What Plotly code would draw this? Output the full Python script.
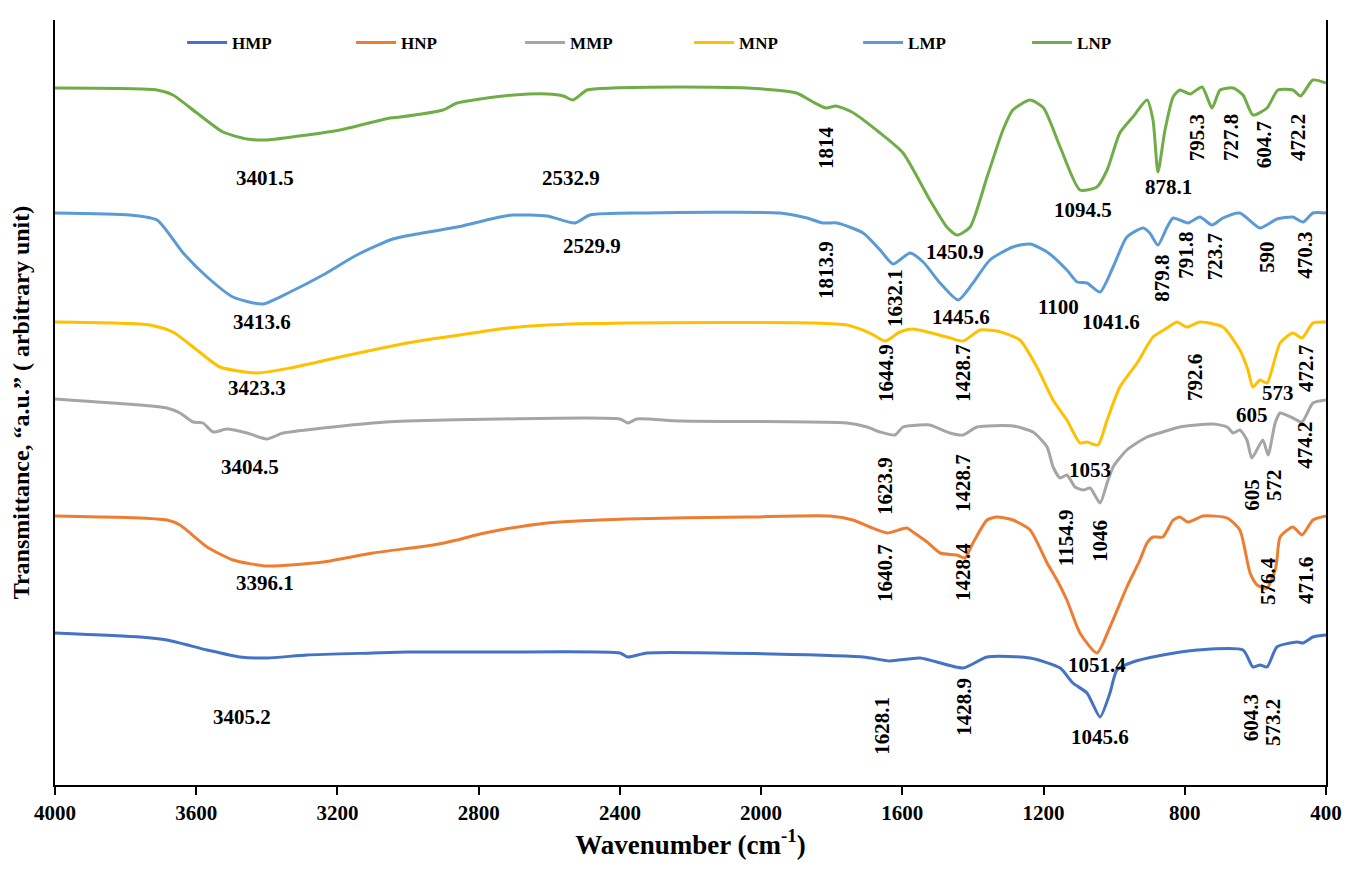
import plotly.graph_objects as go

# ---- data (wavenumber cm-1, transmittance a.u. with vertical offsets) ----
series_names = ["HMP", "HNP", "MMP", "MNP", "LMP", "LNP"]
series_colors = ["#4472C4", "#ED7D31", "#A5A5A5", "#FFC000", "#5B9BD5", "#70AD47"]

hmp_wn = [4000, 3759, 3683, 3569, 3476, 3400, 3286, 3099, 3003, 2910, 2740, 2400, 2377, 2323, 1711, 1635, 1550,
          1428, 1360, 1238, 1153, 1117, 1077, 1040, 1012, 992, 947, 862, 765, 635, 607, 587, 567, 539, 482, 465, 437, 400]
hmp_t = [152, 148, 145, 135, 128, 127, 130, 132, 133, 133, 133, 132, 128, 132, 128, 124, 127,
         117, 128, 127, 117, 102, 92, 68, 92, 115, 123, 130, 135, 135, 118, 120, 118, 138, 143, 142, 148, 150]

hnp_wn = [4000, 3683, 3646, 3569, 3496, 3400, 3241, 3099, 2929, 2861, 2796, 2740, 2606, 2380, 2040, 1805, 1740, 1692,
          1643, 1587, 1570, 1530, 1493, 1445, 1423, 1400, 1360, 1332, 1287, 1238, 1190, 1162, 1134, 1097, 1049, 1012,
          964, 927, 907, 890, 862, 833, 814, 791, 748, 680, 644, 615, 595, 567, 544, 539, 530, 494, 468, 437, 400]
hnp_t = [269, 265, 260, 238, 225, 219, 223, 232, 240, 245, 251, 255, 262, 266, 268, 269, 265, 258,
         252, 257, 253, 243, 232, 230, 227, 242, 265, 268, 265, 255, 222, 205, 185, 152, 132, 158,
         198, 225, 242, 248, 248, 265, 268, 263, 269, 267, 255, 212, 200, 197, 215, 225, 248, 258, 250, 265, 269]

mmp_wn = [4000, 3759, 3683, 3646, 3609, 3581, 3552, 3513, 3456, 3400, 3354, 3241, 3099, 3003, 2740, 2400, 2377, 2352,
          2230, 1757, 1700, 1663, 1621, 1598, 1550, 1522, 1465, 1428, 1389, 1287, 1230, 1190, 1173, 1153, 1134, 1111,
          1088, 1068, 1040, 1020, 1003, 964, 907, 862, 814, 720, 680, 663, 644, 624, 610, 579, 564, 544, 530, 494,
          468, 437, 400]
mmp_t = [386, 380, 377, 372, 363, 362, 353, 356, 352, 346, 352, 357, 362, 364, 366, 366, 362, 366,
         364, 362, 358, 353, 350, 358, 360, 360, 352, 350, 358, 359, 353, 338, 318, 307, 310, 298,
         295, 297, 282, 302, 318, 335, 348, 353, 358, 361, 358, 352, 355, 345, 327, 345, 330, 362, 372, 367,
         363, 382, 385]

mnp_wn = [4000, 3731, 3666, 3598, 3533, 3428, 3334, 3193, 3003, 2796, 2740, 2606, 2380, 1853, 1757, 1692, 1649, 1607,
          1570, 1474, 1428, 1380, 1332, 1267, 1219, 1173, 1134, 1097, 1077, 1046, 1020, 984, 935, 890, 850, 822, 794,
          757, 692, 644, 621, 607, 587, 567, 530, 494, 468, 437, 400]
mnp_t = [463, 460, 453, 435, 418, 412, 417, 428, 442, 453, 456, 460, 462, 462, 460, 452, 444, 453,
         456, 448, 444, 455, 454, 445, 418, 385, 365, 342, 343, 340, 365, 398, 422, 448, 457, 463, 458,
         463, 458, 435, 415, 398, 405, 402, 442, 452, 447, 462, 463]

lmp_wn = [4000, 3788, 3711, 3637, 3569, 3496, 3411, 3334, 3241, 3145, 3043, 2975, 2861, 2740, 2703, 2606, 2527, 2485,
          2323, 1947, 1870, 1825, 1785, 1711, 1663, 1626, 1578, 1541, 1493, 1442, 1400, 1352, 1287, 1238, 1190, 1134,
          1105, 1077, 1040, 1003, 964, 918, 899, 876, 850, 833, 791, 757, 723, 692, 644, 587, 539, 494, 465, 437, 400]
lmp_t = [572, 570, 565, 532, 508, 488, 481, 493, 510, 530, 546, 551, 558, 568, 570, 569, 562, 570,
         572, 572, 567, 562, 562, 552, 535, 521, 532, 523, 502, 485, 502, 525, 538, 541, 533, 515,
         503, 502, 493, 518, 548, 557, 552, 540, 558, 567, 562, 568, 560, 567, 572, 557, 566, 568, 563, 572, 572]

lnp_wn = [4000, 3711, 3666, 3598, 3524, 3456, 3400, 3286, 3193, 3051, 3023, 2901, 2861, 2796, 2700, 2606, 2560, 2533,
          2493, 2420, 2230, 2040, 1900, 1853, 1816, 1788, 1743, 1663, 1598, 1522, 1474, 1445, 1408, 1360, 1315, 1287,
          1238, 1200, 1153, 1097, 1049, 1020, 984, 947, 907, 890, 876, 856, 833, 814, 785, 751, 723, 700, 663, 635,
          607, 567, 536, 494, 472, 437, 400]
lnp_t = [697, 695, 690, 672, 653, 646, 645, 650, 655, 667, 668, 675, 682, 686, 690, 691, 689, 685,
         695, 697, 698, 697, 692, 683, 677, 679, 673, 652, 632, 585, 558, 550, 558, 608, 655, 675,
         685, 677, 638, 595, 598, 615, 652, 668, 685, 665, 613, 655, 688, 695, 691, 698, 677, 695, 697, 690,
         670, 677, 695, 695, 689, 705, 702]

x_ticks = [4000, 3600, 3200, 2800, 2400, 2000, 1600, 1200, 800, 400]

# peak labels: (text, wavenumber, transmittance, angle)
peak_labels = [
    ("3401.5", 3405, 607, 0), ("3413.6", 3414, 463, 0), ("3423.3", 3428, 397, 0),
    ("3404.5", 3448, 318, 0), ("3396.1", 3405, 202, 0), ("3405.2", 3470, 68, 0),
    ("2532.9", 2538, 607, 0), ("2529.9", 2479, 539, 0),
    ("1450.9", 1451, 533, 0), ("1445.6", 1434, 468, 0), ("1094.5", 1088, 575, 0),
    ("878.1", 845, 598, 0), ("1100", 1159, 478, 0), ("1041.6", 1009, 463, 0),
    ("1053", 1069, 315, 0), ("1051.4", 1049, 120, 0), ("1045.6", 1040, 48, 0),
    ("573", 536, 392, 0), ("605", 610, 370, 0),
    ("1814", 1816, 637, -90), ("1813.9", 1816, 515, -90), ("1632.1", 1621, 487, -90),
    ("795.3", 765, 647, -90), ("727.8", 669, 647, -90), ("604.7", 575, 640, -90), ("472.2", 479, 647, -90),
    ("879.8", 865, 507, -90), ("791.8", 797, 530, -90), ("723.7", 714, 528, -90),
    ("590", 567, 528, -90), ("470.3", 460, 530, -90),
    ("1644.9", 1646, 412, -90), ("1428.7", 1428, 412, -90), ("792.6", 771, 407, -90), ("472.7", 457, 417, -90),
    ("474.2", 460, 340, -90), ("1623.9", 1649, 299, -90), ("1428.7", 1428, 302, -90),
    ("1154.9", 1136, 247, -90), ("1046", 1040, 244, -90), ("605", 610, 290, -90), ("572", 547, 300, -90),
    ("1640.7", 1649, 212, -90), ("1428.4", 1428, 213, -90), ("576.4", 564, 204, -90), ("471.6", 457, 205, -90),
    ("1628.1", 1658, 59, -90), ("1428.9", 1426, 78, -90), ("604.3", 612, 67, -90), ("573.2", 550, 62, -90),
]

all_wn = [hmp_wn, hnp_wn, mmp_wn, mnp_wn, lmp_wn, lnp_wn]
all_t = [hmp_t, hnp_t, mmp_t, mnp_t, lmp_t, lnp_t]

FONT = "Liberation Serif, Times New Roman, serif"

fig = go.Figure()
for name, color, wn, t in zip(series_names, series_colors, all_wn, all_t):
    fig.add_trace(go.Scatter(
        x=wn, y=t, mode="lines", name=name,
        line=dict(color=color, width=3, shape="spline", smoothing=0.6),
    ))

for text, wn, t, ang in peak_labels:
    fig.add_annotation(x=wn, y=t, text=text, showarrow=False, textangle=ang,
                       font=dict(family=FONT, size=21, color="black", weight="bold"),
                       xanchor="center", yanchor="middle")

fig.update_layout(
    width=1348, height=877,
    margin=dict(l=55, r=22, t=20, b=92),
    paper_bgcolor="white", plot_bgcolor="white",
    font=dict(family=FONT, color="black"),
    legend=dict(orientation="h", x=0.1, y=0.97, xanchor="left", yanchor="middle",
                entrywidth=114, entrywidthmode="pixels",
                font=dict(family=FONT, size=17, color="black", weight="bold"),
                bgcolor="rgba(0,0,0,0)", itemwidth=40),
    showlegend=True,
)
fig.update_xaxes(
    range=[4000, 400], tickvals=x_ticks, ticktext=[str(v) for v in x_ticks],
    showline=True, linecolor="black", linewidth=2, mirror=False,
    ticks="outside", ticklen=8, tickwidth=1.5, tickcolor="black",
    tickfont=dict(family=FONT, size=21, color="black", weight="bold"),
    showgrid=False, zeroline=False, ticklabelstandoff=0, ticklabeloverflow="allow",
    title=dict(text="Wavenumber (cm<sup>-1</sup>)", standoff=7,
               font=dict(family=FONT, size=27, color="black", weight="bold")),
    automargin=False,
)
fig.update_yaxes(
    range=[0, 765], showticklabels=False, ticks="",
    showline=True, linecolor="black", linewidth=2, mirror=True,
    showgrid=False, zeroline=False,
    title=dict(text="Transmittance, “a.u.” ( arbitrary unit)", standoff=17,
               font=dict(family=FONT, size=24, color="black", weight="bold")),
    automargin=False,
)

# remove the default page margin so the 1348x877 figure fills the window exactly
fig.write_html(
    "out.html",
    config={"displayModeBar": False},
    post_script="document.body.style.margin='0';document.documentElement.style.overflow='hidden';",
)
